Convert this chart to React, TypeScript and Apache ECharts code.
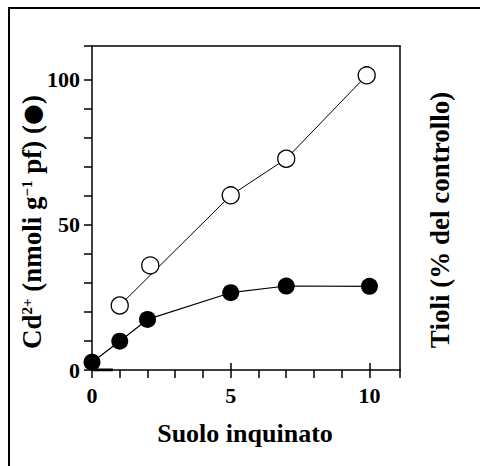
import React, { useEffect, useRef } from "react";
import * as echarts from "echarts";

// ---- data ----
const filledX = [0, 1, 2, 5, 7, 10];
const filledY = [2.7, 9.9, 17.4, 26.6, 28.9, 28.8];
const openX = [1, 2.1, 5, 7, 9.9];
const openY = [22.2, 36.0, 60.1, 72.7, 101.4];
// the open-circle line runs 1 -> 5 -> 7 -> 10 (it passes beside the 2 point)
const openLineX = [1, 5, 7, 9.9];
const openLineY = [22.2, 60.1, 72.7, 101.4];
const stubX = [0, 0.75];
const stubY = [0, 0];

const xMin = 0;
const xMax = 11.1;
const yMin = 0;
const yMax = 111.5;
const xMinorTicks = [0, 1, 2, 3, 4, 5, 6, 7, 8, 9, 10];
const xMajorTicks = [0, 5, 10];
const yMinorTicks = [0, 10, 20, 30, 40, 50, 60, 70, 80, 90, 100];
const yMajorTicks = [0, 50, 100];

const xTitle = "Suolo inquinato";
const rightTitle = "Tioli (% del controllo)";

const FONT = "Liberation Serif";

const zip = (a: number[], b: number[]) => a.map((v, i) => [v, b[i]]);

export default function App() {
  const ref = useRef<HTMLDivElement>(null);
  useEffect(() => {
    if (!ref.current) return;
    const chart = echarts.init(ref.current, undefined, { renderer: "svg" });
    const frameLine = {
      show: true,
      onZero: false,
      lineStyle: { color: "#000", width: 1.5 },
    };
    const tickLine = { color: "#000", width: 1.5 };
    const tickLabel = {
      fontFamily: FONT,
      fontWeight: "bold",
      fontSize: 22,
      color: "#000",
    };

    const option: any = {
      animation: false,
      grid: { left: 92, top: 46, width: 308, height: 324, show: false },
      xAxis: [
        {
          type: "value",
          min: xMin,
          max: xMax,
          position: "bottom",
          axisLine: frameLine,
          axisTick: {
            show: true,
            customValues: [...xMinorTicks, xMax],
            length: 8,
            lineStyle: tickLine,
          },
          axisLabel: { show: true, customValues: xMajorTicks, margin: 14, ...tickLabel },
          splitLine: { show: false },
        },
        {
          // major ticks also reach into the plot
          type: "value",
          min: xMin,
          max: xMax,
          position: "bottom",
          axisLine: { show: false, onZero: false },
          axisTick: {
            show: true,
            inside: true,
            customValues: xMajorTicks,
            length: 7,
            lineStyle: tickLine,
          },
          axisLabel: { show: false },
          splitLine: { show: false },
        },
        {
          type: "value",
          min: xMin,
          max: xMax,
          position: "top",
          axisLine: frameLine,
          axisTick: { show: false },
          axisLabel: { show: false },
          splitLine: { show: false },
        },
      ],
      yAxis: [
        {
          type: "value",
          min: yMin,
          max: yMax,
          position: "left",
          axisLine: frameLine,
          axisTick: {
            show: true,
            customValues: [...yMinorTicks, yMax],
            length: 8,
            lineStyle: tickLine,
          },
          axisLabel: { show: true, customValues: yMajorTicks, margin: 12, ...tickLabel },
          splitLine: { show: false },
        },
        {
          type: "value",
          min: yMin,
          max: yMax,
          position: "right",
          axisLine: frameLine,
          axisTick: { show: false },
          axisLabel: { show: false },
          splitLine: { show: false },
        },
      ],
      graphic: [
        {
          type: "text",
          x: 245,
          y: 433,
          style: {
            text: xTitle,
            fontFamily: FONT,
            fontWeight: "bold",
            fontSize: 26,
            fill: "#000",
            align: "center",
            verticalAlign: "middle",
          },
        },
        {
          type: "text",
          x: 32,
          y: 222,
          rotation: Math.PI / 2,
          style: {
            text: "{a|Cd}{s|2+}{a| (nmoli g}{s|−1}{a| pf) (}{c|●}{a|)}",
            align: "center",
            verticalAlign: "middle",
            fill: "#000",
            rich: {
              a: { fontFamily: FONT, fontWeight: "bold", fontSize: 27, lineHeight: 32, fill: "#000" },
              c: { fontFamily: "DejaVu Sans", fontSize: 24, lineHeight: 32, fill: "#000" },
              s: {
                fontFamily: FONT,
                fontWeight: "bold",
                fontSize: 15,
                lineHeight: 32,
                verticalAlign: "top",
                padding: [3, 0, 0, 0],
                fill: "#000",
              },
            },
          },
        },
        {
          type: "text",
          x: 440,
          y: 220,
          rotation: Math.PI / 2,
          style: {
            text: rightTitle,
            fontFamily: FONT,
            fontWeight: "bold",
            fontSize: 27,
            fill: "#000",
            align: "center",
            verticalAlign: "middle",
          },
        },
      ],
      series: [
        {
          type: "line",
          data: zip(stubX, stubY),
          showSymbol: false,
          symbol: "none",
          lineStyle: { color: "#000", width: 3 },
          z: 3,
        },
        {
          type: "line",
          data: zip(openLineX, openLineY),
          showSymbol: false,
          symbol: "none",
          lineStyle: { color: "#000", width: 1 },
          z: 3,
        },
        {
          type: "scatter",
          data: zip(openX, openY),
          symbol: "circle",
          symbolSize: 17,
          itemStyle: { color: "#fff", borderColor: "#000", borderWidth: 1.3, opacity: 1 },
          z: 5,
        },
        {
          type: "line",
          data: zip(filledX, filledY),
          symbol: "circle",
          symbolSize: 17,
          showSymbol: true,
          lineStyle: { color: "#000", width: 1.2 },
          itemStyle: { color: "#000", borderWidth: 0 },
          z: 6,
        },
      ],
    };
    chart.setOption(option);
    return () => chart.dispose();
  }, []);
  return (
    <div
      style={{
        position: "absolute",
        left: 0,
        top: 0,
        width: 480,
        height: 466,
        overflow: "hidden",
        background: "#fff",
      }}
    >
      <div
        style={{
          position: "absolute",
          left: 8,
          top: 7,
          width: 600,
          height: 600,
          borderLeft: "2px solid #000",
          borderTop: "2px solid #000",
        }}
      />
      <div
        ref={ref}
        style={{ position: "absolute", left: 0, top: 0, width: 480, height: 466 }}
      />
    </div>
  );
}
